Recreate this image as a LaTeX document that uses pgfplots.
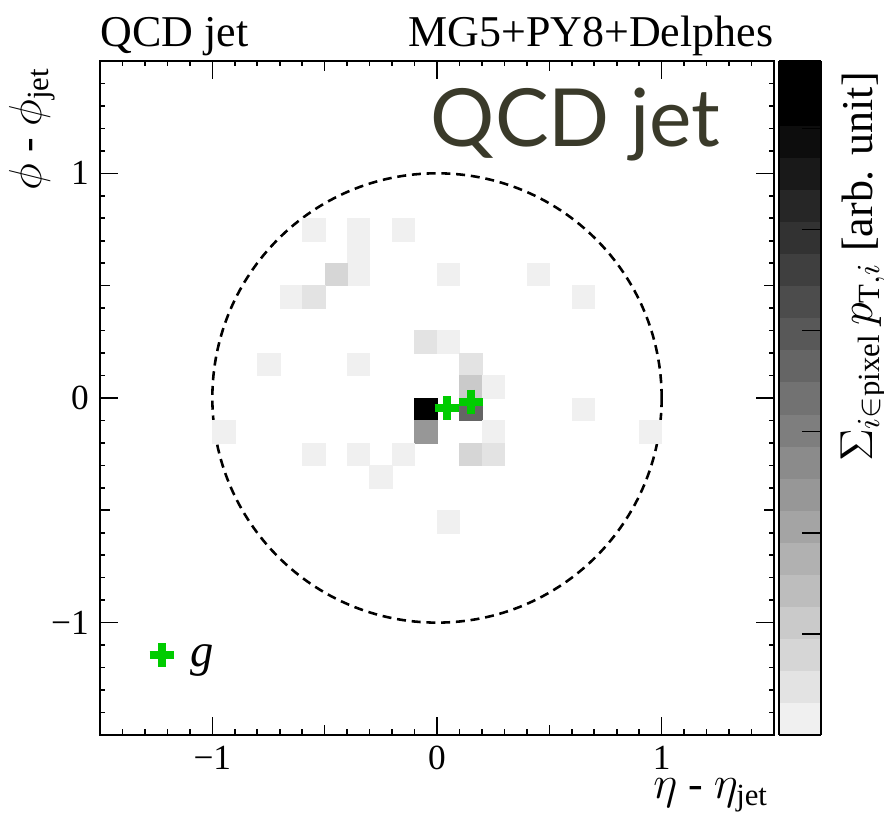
\documentclass[border=0pt]{standalone}
\usepackage{fontspec}
\usepackage{amsmath}
\usepackage{pgfplots}
\pgfplotsset{compat=1.18}
\setmainfont{Liberation Serif}
\newfontfamily\latofont{Lato}
\definecolor{pgreen}{RGB}{0,204,0}
\definecolor{bigtext}{RGB}{58,58,42}

% pixel centres (0.1 x 0.1 cells), c = colour level (k+0.5)/20
\pgfplotstableread{
x y c
-0.55 0.75 0.025
-0.35 0.75 0.025
-0.35 0.65 0.025
-0.35 0.55 0.025
-0.15 0.75 0.025
-0.45 0.55 0.125
0.05 0.55 0.025
-0.65 0.45 0.025
-0.55 0.45 0.075
0.45 0.55 0.025
0.65 0.45 0.025
-0.05 0.25 0.075
0.05 0.25 0.025
-0.75 0.15 0.025
-0.35 0.15 0.025
0.15 0.15 0.075
0.15 0.05 0.175
0.25 0.05 0.025
-0.05 -0.05 0.975
0.15 -0.05 0.525
-0.05 -0.15 0.375
0.25 -0.15 0.025
-0.95 -0.15 0.025
0.95 -0.15 0.025
0.65 -0.05 0.025
-0.15 -0.25 0.025
0.15 -0.25 0.125
0.25 -0.25 0.075
-0.55 -0.25 0.025
-0.35 -0.25 0.025
-0.25 -0.35 0.025
0.05 -0.55 0.025
}\pixels

\begin{document}
\begin{tikzpicture}
\begin{axis}[
  x=70pt, y=70pt,
  xmin=-1.5, xmax=1.5, ymin=-1.5, ymax=1.5,
  clip=false,
  axis line style={line width=0.6pt},
  tick style={line width=0.5pt, black},
  tick align=inside,
  major tick length=5.6pt, minor tick length=1.7pt,
  xtick={-1,0,1}, ytick={-1,0,1},
  xticklabels={−1,0,1}, yticklabels={−1,0,1},
  minor xtick={-1.4,-1.3,-1.2,-1.1,-0.9,-0.8,-0.7,-0.6,-0.4,-0.3,-0.2,-0.1,0.1,0.2,0.3,0.4,0.6,0.7,0.8,0.9,1.1,1.2,1.3,1.4},
  minor ytick={-1.4,-1.3,-1.2,-1.1,-0.9,-0.8,-0.7,-0.6,-0.4,-0.3,-0.2,-0.1,0.1,0.2,0.3,0.4,0.6,0.7,0.8,0.9,1.1,1.2,1.3,1.4},
  extra x ticks={-0.5,0.5}, extra y ticks={-0.5,0.5},
  extra x tick labels={}, extra y tick labels={},
  extra tick style={major tick length=3.2pt},
  tick label style={font=\fontsize{11}{13}\selectfont},
  xlabel={$\eta$ - $\eta_{\text{jet}}$},
  xlabel style={at={(axis description cs:0.993,-0.064)}, anchor=north east, inner sep=0pt, font=\fontsize{13.7}{16}\selectfont},
  ylabel={$\phi$ - $\phi_{\text{jet}}$},
  ylabel style={at={(axis description cs:-0.05,1.007)}, anchor=south east, font=\fontsize{13.7}{16}\selectfont},
  colormap={rootgray}{gray=(0.94) gray=(0.8905) gray=(0.8411) gray=(0.7916) gray=(0.7421)
    gray=(0.6926) gray=(0.6432) gray=(0.5937) gray=(0.5442) gray=(0.4947)
    gray=(0.4453) gray=(0.3958) gray=(0.3463) gray=(0.2968) gray=(0.2474)
    gray=(0.1979) gray=(0.1484) gray=(0.0989) gray=(0.0495) gray=(0) gray=(0)},
  colormap access=piecewise constant,
  point meta min=0, point meta max=1,
  colorbar,
  colorbar shift/.style={xshift=1.6pt},
  colorbar style={
    at={(parent axis.north east)}, anchor=north west,
    width=13pt,
    axis line style={line width=0.5pt},
    ytick={0,0.15,0.3,0.45,0.6,0.75,0.9}, yticklabels={},
    ytick pos=right, tick align=inside, major tick length=6pt,
    tick style={line width=0.5pt, black},
    ylabel={$\Sigma_{i\in\text{pixel}}\,p_{\text{T},i}$ [arb. unit]},
    ylabel style={at={(rel axis cs:1.2,1)}, anchor=north east, font=\fontsize{13.7}{16}\selectfont},
  },
  legend style={draw=none, fill=none, inner sep=0pt, nodes={inner sep=0pt},
    at={(axis cs:-1.228,-1.145)}, anchor=west, xshift=-3.75pt,
    font=\fontsize{14.5}{17}\selectfont,
    /tikz/every odd column/.append style={column sep=5.3pt}},
  legend image code/.code={\draw[mark repeat=1,mark phase=1,#1] plot coordinates {(0cm,0cm)};},
]
\addplot[scatter, only marks, mark=square*, mark size=3.5pt, point meta=explicit,
  mark options={line width=0.1pt},
  scatter/use mapped color={draw=mapped color, fill=mapped color}, forget plot]
  table[x=x, y=y, meta=c] {\pixels};

\draw[dash pattern=on 2.8pt off 1.8pt, line width=0.8pt] (axis cs:0,0) circle[radius=70pt];

\addplot[only marks, mark=+, mark size=3.75pt, mark options={line width=2.5pt, pgreen}]
  coordinates {(0.043,-0.046) (0.15,-0.016)};
\addlegendentry{\raisebox{-1.5pt}{\textit{g}}}

\node[anchor=base west, yshift=4.4pt, font=\fontsize{13.7}{16}\selectfont, inner sep=0pt] at (rel axis cs:0,1) {QCD jet};
\node[anchor=base east, yshift=4.4pt, font=\fontsize{13.7}{16}\selectfont, inner sep=0pt] at (rel axis cs:1,1) {MG5+PY8+Delphes};
\node[anchor=base west, font=\latofont\fontsize{25}{29}\selectfont, text=bigtext, inner sep=0pt] at (axis cs:-0.03,1.12) {QCD jet};
\end{axis}
\pgfresetboundingbox
\path[use as bounding box] ([xshift=-31.16pt,yshift=-27.73pt]current axis.south west) rectangle ([xshift=34.28pt,yshift=19pt]current axis.north east);
\end{tikzpicture}
\end{document}
